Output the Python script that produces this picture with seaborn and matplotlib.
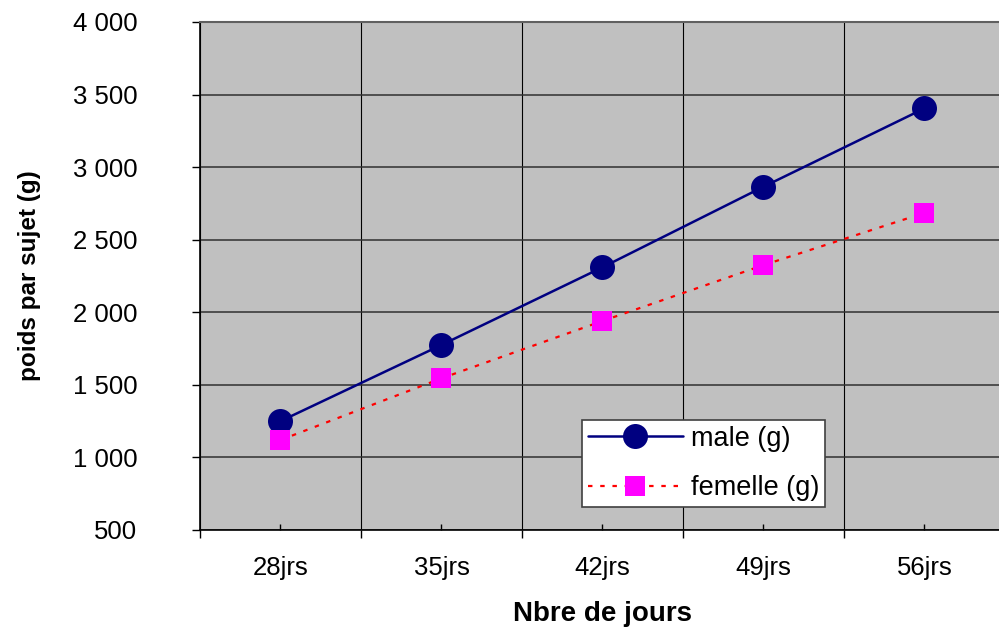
import seaborn as sns
import matplotlib.pyplot as plt
import pandas as pd
from matplotlib.ticker import FixedLocator, FuncFormatter, NullFormatter

# data
jours = ['28jrs', '35jrs', '42jrs', '49jrs', '56jrs']
male_g = [1250, 1775, 2310, 2865, 3405]
femelle_g = [1120, 1545, 1940, 2325, 2685]

df = pd.DataFrame({'jours': jours, 'male (g)': male_g, 'femelle (g)': femelle_g})

sns.set_theme(style='white')
plt.rcParams['font.family'] = ['Liberation Sans', 'DejaVu Sans']
plt.rcParams['text.color'] = 'black'
plt.rcParams['axes.labelcolor'] = 'black'
plt.rcParams['xtick.color'] = 'black'
plt.rcParams['ytick.color'] = 'black'

fig = plt.figure(figsize=(9.99, 6.32), dpi=100)
ax = fig.add_axes([0.2002, 0.1614, 0.8058, 0.8038])
ax.set_facecolor('#C0C0C0')

sns.lineplot(data=df, x='jours', y='male (g)', ax=ax, color='#000080',
             linewidth=1.8, marker='o', markersize=18, markeredgewidth=0,
             label='male (g)', sort=False)
sns.lineplot(data=df, x='jours', y='femelle (g)', ax=ax, color='#FF0000',
             linewidth=1.6, linestyle=(0, (2, 3.5)), marker='s', markersize=14,
             markerfacecolor='#FF00FF', markeredgewidth=0,
             label='femelle (g)', sort=False)

ax.set_xlim(-0.5, len(jours) - 0.5)
ax.set_ylim(500, 4000)

# category boundaries carry the gridlines, centres carry the labels
ax.xaxis.set_major_locator(FixedLocator([i - 0.5 for i in range(len(jours) + 1)]))
ax.xaxis.set_major_formatter(NullFormatter())
ax.xaxis.set_minor_locator(FixedLocator(list(range(len(jours)))))
ax.xaxis.set_minor_formatter(FuncFormatter(lambda v, p: jours[int(round(v))]))
ax.tick_params(axis='x', which='major', direction='out', length=6, width=1, color='black', bottom=True)
ax.tick_params(axis='x', which='minor', direction='in', length=4.5, width=1, color='black',
               bottom=True, pad=19, labelsize=18.5)

ax.set_yticks(range(500, 4001, 500))
ax.yaxis.set_major_formatter(FuncFormatter(lambda v, p: f'{int(v):,}'.replace(',', ' ')))
ax.tick_params(axis='y', direction='out', length=6, width=1, color='black', left=True,
               pad=39, labelsize=18.5)

ax.grid(True, axis='x', which='major', color='black', linewidth=0.8)
ax.grid(True, axis='y', which='major', color='#303030', linewidth=1.1)

for side in ['left', 'bottom']:
    ax.spines[side].set_color('black')
    ax.spines[side].set_linewidth(1.2)
ax.spines['top'].set_color('#606060')
ax.spines['top'].set_linewidth(1.5)
ax.spines['right'].set_visible(False)

ax.set_xlabel('Nbre de jours', fontsize=20, fontweight='bold', labelpad=15)
ax.set_ylabel('poids par sujet (g)', fontsize=17.5, fontweight='bold', labelpad=23)

leg = ax.legend(loc='upper left', bbox_to_anchor=(0.4745, 0.2165), fontsize=19.5,
                frameon=True, fancybox=False, framealpha=1, edgecolor='#404040',
                handlelength=3.5, borderpad=0.22, labelspacing=0.85, handletextpad=0.3,
                borderaxespad=0)
leg.get_frame().set_linewidth(1.2)

fig.savefig('out.png', dpi=100)
